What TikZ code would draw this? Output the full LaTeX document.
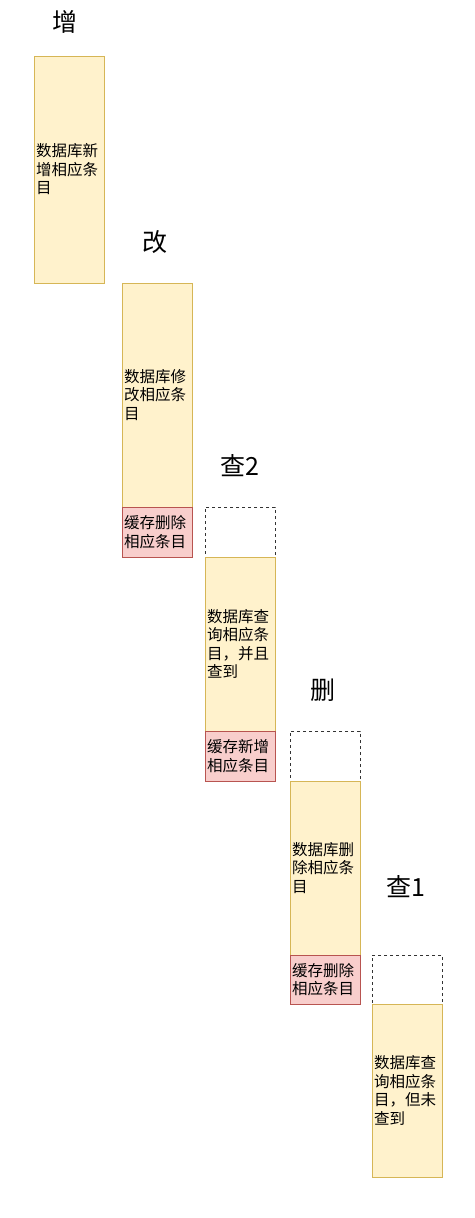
\documentclass[tikz,border=0pt]{standalone}
\usepackage{fontspec}
\setmainfont{Noto Sans CJK SC}
\definecolor{dbfill}{HTML}{FFF2CC}
\definecolor{dbline}{HTML}{D6B656}
\definecolor{cfill}{HTML}{F8CECC}
\definecolor{cline}{HTML}{B85450}
\definecolor{slotline}{HTML}{333333}
\tikzset{
  box/.style={rectangle, line width=1pt, inner xsep=2pt, inner ysep=0pt, text width=66pt, align=left,
     minimum width=70pt, font=\fontsize{15.5}{18.5}\selectfont},
  dbbox/.style={box, fill=dbfill, draw=dbline},
  cachebox/.style={box, fill=cfill, draw=cline},
  slotbox/.style={box, fill=white, draw=slotline, dash pattern=on 3pt off 3pt},
  ttl/.style={font=\fontsize{25}{30}\selectfont, inner sep=0pt}
}
\begin{document}
\begin{tikzpicture}[x=1pt,y=-1pt]
\useasboundingbox[fill=white] (0,0) rectangle (474,1218);
% column 1
\node[ttl] (t1) at (65,22) {增};
\node[dbbox, minimum height=227pt] (d1) at (69,169.5) {数据库新\\增相应条\\目};
% column 2
\node[ttl] (t2) at (155,242) {改};
\node[dbbox, minimum height=224pt] (d2) at (157,395) {数据库修\\改相应条\\目};
\node[cachebox, minimum height=50pt] (c2) at (157,532) {缓存删除\\相应条目};
% column 3
\node[ttl] (t3) at (240,466) {查2};
\node[slotbox, minimum height=50pt] (s3) at (240,532) {};
\node[dbbox, minimum height=174pt] (d3) at (240,644) {数据库查\\询相应条\\目，并且\\查到};
\node[cachebox, minimum height=50pt] (c3) at (240,756) {缓存新增\\相应条目};
% column 4
\node[ttl] (t4) at (323,690) {删};
\node[slotbox, minimum height=50pt] (s4) at (325,756) {};
\node[dbbox, minimum height=174pt] (d4) at (325,868) {数据库删\\除相应条\\目};
\node[cachebox, minimum height=49pt] (c4) at (325,979.5) {缓存删除\\相应条目};
% column 5
\node[ttl] (t5) at (406,887) {查1};
\node[slotbox, minimum height=49pt] (s5) at (407,979.5) {};
\node[dbbox, minimum height=173pt] (d5) at (407,1090.5) {数据库查\\询相应条\\目，但未\\查到};
\end{tikzpicture}
\end{document}
